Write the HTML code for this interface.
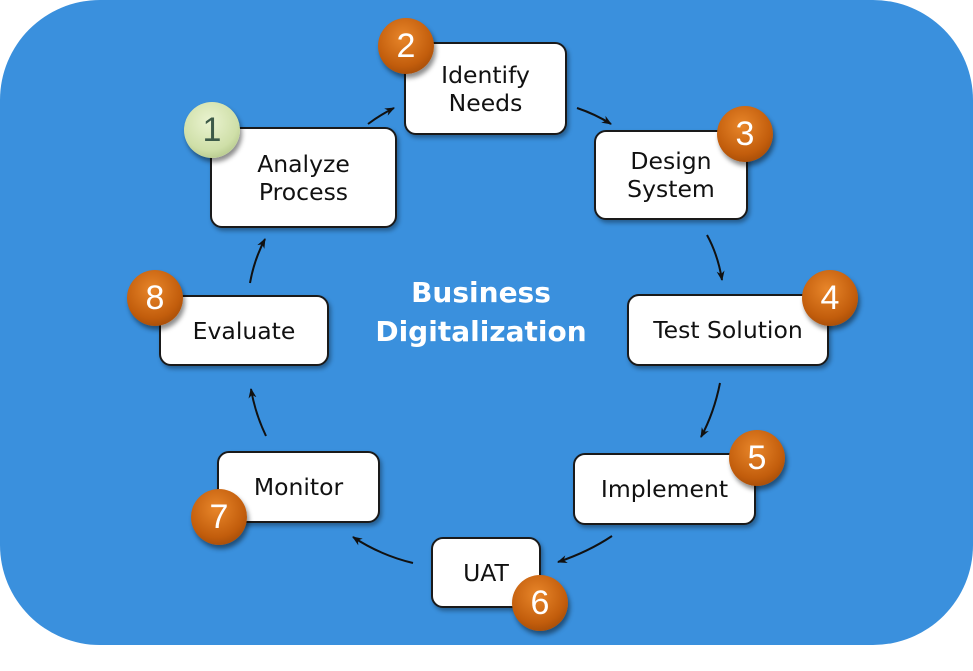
<!DOCTYPE html>
<html><head><style>
body{margin:0;width:973px;height:671px;background:#fff;position:relative;overflow:hidden;font-family:"DejaVu Sans","Liberation Sans",sans-serif}
.bg{position:absolute;left:0;top:0;width:973px;height:645px;background:#3a90dd;border-radius:100px}
.box{position:absolute;background:#fff;border:2px solid #1a1a1a;border-radius:12px;box-sizing:border-box;display:flex;align-items:center;justify-content:center;text-align:center;font-size:23.5px;line-height:28px;color:#111;box-shadow:2px 3px 4px rgba(0,0,0,.35)}
.b{position:absolute;width:56px;height:56px;border-radius:50%;background:radial-gradient(circle at 45% 35%,#e8862a,#c25d0c 60%,#8a3d05);color:#fff;font-size:34px;display:flex;align-items:center;justify-content:center;box-shadow:2px 4px 5px rgba(0,0,0,.45);font-family:"Liberation Sans",sans-serif}
.g{background:radial-gradient(circle at 45% 35%,#eaf3d0,#cfdfa8 60%,#9fb474);color:#3d5a48}
.t{position:absolute;left:281px;width:400px;text-align:center;color:#fff;font-weight:bold;font-size:28px;line-height:39px;top:273px}
</style></head><body>
<div class="bg"></div>
<svg width="973" height="671" style="position:absolute;left:0;top:0">
<defs><marker id="a" markerUnits="userSpaceOnUse" markerWidth="12" markerHeight="12" refX="9" refY="5" orient="auto"><path d="M0,1 L10,5 L0,9 L3,5 z" fill="#111"/></marker></defs>
<g stroke="#111" stroke-width="2" fill="none" marker-end="url(#a)">
<path d="M368,124 Q380,115 394,108"/>
<path d="M577,108 Q595,114 611,124"/>
<path d="M707,235 Q718,255 722,280"/>
<path d="M720,383 Q714,413 701,437"/>
<path d="M612,536 Q588,552 558,562"/>
<path d="M413,563 Q380,555 353,537"/>
<path d="M266,436 Q255,413 251,389"/>
<path d="M250,283 Q254,260 265,239"/>
</g></svg>
<div class="t">Business<br>Digitalization</div>
<div class="box" style="left:210px;top:127px;width:187px;height:101px">Analyze<br>Process</div>
<div class="box" style="left:404px;top:42px;width:163px;height:93px">Identify<br>Needs</div>
<div class="box" style="left:594px;top:130px;width:154px;height:90px">Design<br>System</div>
<div class="box" style="left:627px;top:294px;width:202px;height:72px">Test Solution</div>
<div class="box" style="left:573px;top:453px;width:183px;height:72px">Implement</div>
<div class="box" style="left:431px;top:537px;width:110px;height:71px">UAT</div>
<div class="box" style="left:217px;top:451px;width:163px;height:72px">Monitor</div>
<div class="box" style="left:159px;top:295px;width:170px;height:71px">Evaluate</div>
<div class="b g" style="left:184px;top:102px">1</div>
<div class="b" style="left:378px;top:18px">2</div>
<div class="b" style="left:717px;top:106px">3</div>
<div class="b" style="left:802px;top:270px">4</div>
<div class="b" style="left:729px;top:430px">5</div>
<div class="b" style="left:512px;top:575px">6</div>
<div class="b" style="left:191px;top:489px">7</div>
<div class="b" style="left:127px;top:270px">8</div>
</body></html>
